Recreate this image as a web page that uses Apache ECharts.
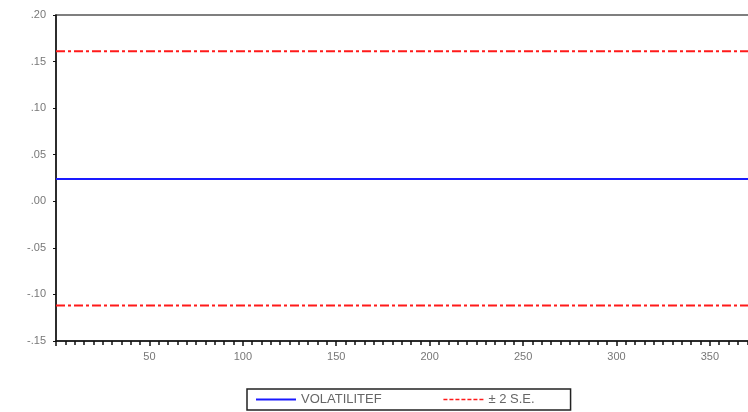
<!doctype html>
<html lang="en">
    <head>
        <meta charset="UTF-8">
        <title></title>
        <script src="https://cdn.jsdelivr.net/npm/echarts@6/dist/echarts.min.js"></script>
        <style>
            html, body { margin: 0; padding: 0; background: #fff; overflow: hidden; }
        </style>
    </head>
    <body>
        <div id="main" style="width: 748px;height:412px;"></div>
        <script type="text/javascript">
        // lags at which the flat lines are drawn (start and end of plot)
        var lags = [0, 372];
        var volatility = [0.024, 0.024];
        var upperSE = [0.161, 0.161];
        var lowerSE = [-0.112, -0.112];

        var myChart = echarts.init(document.getElementById('main'));

        function pairs(ys) {
            return lags.map(function (x, i) { return [x, ys[i]]; });
        }

        function yLabel(v) {
            var s = Math.abs(v).toFixed(2).replace(/^0/, '');
            return (v < -0.0001 ? '-' : '') + s;
        }

        var option = {
            animation: false,
            grid: {
                left: 56,
                width: 695,
                top: 15,
                bottom: 71,
                outerBoundsMode: 'none',
                containLabel: false,
                show: true,
                borderColor: '#555',
                borderWidth: 1.5
            },
            legend: {
                bottom: 2,
                left: 247,
                itemWidth: 40,
                itemHeight: 10,
                itemGap: 61,
                padding: [4, 36, 4, 8],
                borderColor: '#222',
                borderWidth: 1.5,
                itemStyle: { opacity: 0 },
                textStyle: { fontFamily: 'Liberation Sans', fontSize: 13, color: '#666' },
                data: [
                    { name: 'VOLATILITEF' },
                    { name: '± 2 S.E.', lineStyle: { type: [4, 2], width: 1.5 } }
                ]
            },
            xAxis: {
                type: 'value',
                min: 0,
                max: 372,
                interval: 50,
                axisLine: { onZero: false, lineStyle: { color: '#111', width: 1.5 } },
                axisTick: { inside: false, length: 5, lineStyle: { color: '#111', width: 1.5 } },
                minorTick: { show: true, splitNumber: 10, length: 4, lineStyle: { color: '#111', width: 1.5 } },
                splitLine: { show: false },
                axisLabel: {
                    fontFamily: 'Liberation Sans', fontSize: 11, color: '#777', margin: 10,
                    formatter: function (v) { return (v === 0 || v % 50) ? '' : String(v); }
                }
            },
            yAxis: {
                type: 'value',
                min: -0.15,
                max: 0.20,
                interval: 0.05,
                axisLine: { show: true, lineStyle: { color: '#111', width: 1.5 } },
                axisTick: { show: true, inside: false, length: 3, lineStyle: { color: '#111' } },
                splitLine: { show: false },
                axisLabel: {
                    fontFamily: 'Liberation Sans', fontSize: 11, color: '#777', margin: 10,
                    formatter: yLabel
                }
            },
            series: [
                {
                    name: 'VOLATILITEF',
                    type: 'line',
                    symbol: 'none',
                    color: '#1a1aff',
                    lineStyle: { color: '#1a1aff', width: 2 },
                    data: pairs(volatility)
                },
                {
                    name: '± 2 S.E.',
                    type: 'line',
                    symbol: 'none',
                    color: '#ff1a1a',
                    lineStyle: { color: '#ff1a1a', width: 2, type: [9, 3, 3, 3] },
                    data: pairs(upperSE)
                },
                {
                    name: '± 2 S.E.',
                    type: 'line',
                    symbol: 'none',
                    color: '#ff1a1a',
                    lineStyle: { color: '#ff1a1a', width: 2, type: [9, 3, 3, 3] },
                    data: pairs(lowerSE)
                }
            ]
        };

        myChart.setOption(option);
    </script>
    </body>
</html>
